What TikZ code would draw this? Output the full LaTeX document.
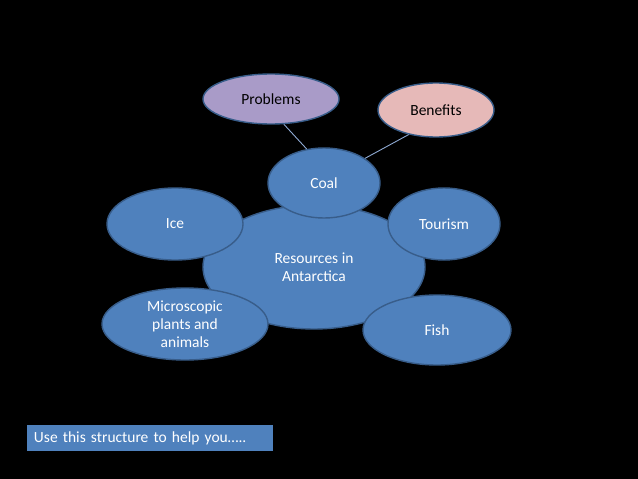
\documentclass[tikz,border=0pt]{standalone}
\usepackage{fontspec}
\setmainfont{Carlito}
\usetikzlibrary{shapes.geometric}
\definecolor{bgblack}{HTML}{000000}
\definecolor{ofblue}{HTML}{4F81BD}
\definecolor{ofborder}{HTML}{385D8A}
\definecolor{oflav}{HTML}{A99BC8}
\definecolor{ofpink}{HTML}{E6B9B8}
\definecolor{linkblue}{HTML}{8EA9D2}
\tikzset{
  bubble/.style={ellipse, draw=ofborder, line width=1.4pt, fill=ofblue, text=white,
    inner sep=0pt, align=center, font=\fontsize{15.5}{18}\selectfont},
  lightbubble/.style={bubble, text=black},
  link/.style={draw=linkblue, line width=0.9pt}
}
\begin{document}
\begin{tikzpicture}[x=1pt,y=-1pt]
\fill[bgblack] (0,0) rectangle (638,479);
\useasboundingbox (0,0) rectangle (638,479);
\node[bubble, minimum width=222pt, minimum height=124pt] (res) at (314,267) {Resources in\\Antarctica};
\node[bubble, minimum width=112pt, minimum height=70pt] (coal) at (324,183) {Coal};
\node[bubble, minimum width=136pt, minimum height=72pt] (ice) at (175,224) {Ice};
\node[bubble, minimum width=112pt, minimum height=72pt] (tour) at (444,224) {Tourism};
\node[bubble, minimum width=166pt, minimum height=72pt] (micro) at (185,324) {Microscopic\\plants and\\animals};
\node[bubble, minimum width=148pt, minimum height=70pt] (fish) at (437,330) {Fish};
\node[lightbubble, fill=oflav, minimum width=136pt, minimum height=50pt] (prob) at (271,99) {Problems};
\node[lightbubble, fill=ofpink, minimum width=116pt, minimum height=54pt] (ben) at (436,110) {Benefits};
\draw[link] (prob.-63) -- (coal.117);
\draw[link] (ben.-138) -- (coal.31);
\node[fill=ofblue, text=white, minimum width=246pt, minimum height=26pt, inner sep=0pt,
  text width=232pt, align=left, font=\fontsize{15.5}{18}\selectfont] (hint) at (150,438) {Use this structure to help you…..};
\end{tikzpicture}
\end{document}
